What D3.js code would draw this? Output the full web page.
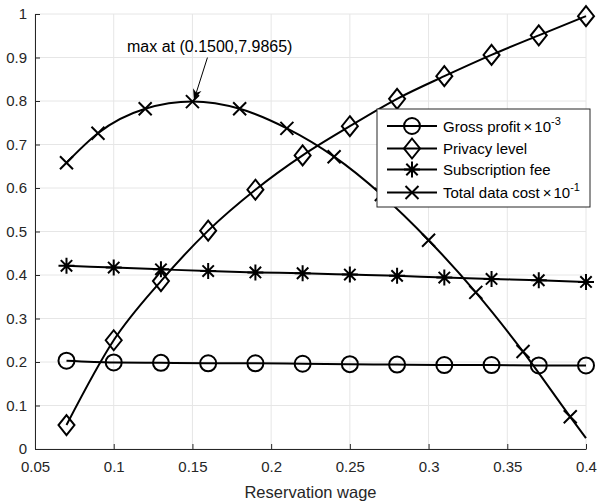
<!DOCTYPE html>
<html>
<head>
<meta charset="utf-8">
<script src="https://cdn.jsdelivr.net/npm/d3@7/dist/d3.min.js"></script>
<style>
  html, body { margin: 0; padding: 0; background: #fff; }
  svg { display: block; font-family: "Liberation Sans", Arial, Helvetica, sans-serif; }
</style>
</head>
<body>
<svg id="chart" width="597" height="503"></svg>
<script>
// Sampled reservation wages (markers every 0.03)
const wage = [0.07, 0.10, 0.13, 0.16, 0.19, 0.22, 0.25, 0.28, 0.31, 0.34, 0.37, 0.40];
// Gross profit (scaled by 10^-3)
const grossProfit = [0.203, 0.199, 0.198, 0.197, 0.197, 0.196, 0.195, 0.194, 0.193, 0.193, 0.192, 0.192];
// Privacy level
const privacyLevel = [0.055, 0.250, 0.386, 0.502, 0.596, 0.675, 0.742, 0.805, 0.857, 0.906, 0.951, 0.995];
// Subscription fee
const subscriptionFee = [0.421, 0.417, 0.413, 0.409, 0.406, 0.404, 0.401, 0.398, 0.394, 0.391, 0.388, 0.384];
// Total data cost (scaled by 10^-1), sampled on its own wage grid
const costWage = [0.07, 0.09, 0.12, 0.15, 0.18, 0.21, 0.24, 0.27, 0.30, 0.33, 0.36, 0.39, 0.40];
const totalDataCost = [0.658, 0.726, 0.782, 0.79865, 0.782, 0.737, 0.672, 0.585, 0.480, 0.360, 0.224, 0.074, 0.025];
const costMarked = [true, true, true, true, true, true, true, true, true, true, true, true, false];

const xTicks = [0.05, 0.1, 0.15, 0.2, 0.25, 0.3, 0.35, 0.4];
const yTicks = [0, 0.1, 0.2, 0.3, 0.4, 0.5, 0.6, 0.7, 0.8, 0.9, 1];

const svg = d3.select("#chart");
const m = { left: 35, right: 11, top: 14, bottom: 54 };
const W = 597, H = 503;
const x = d3.scaleLinear().domain([0.05, 0.4]).range([m.left, W - m.right]);
const y = d3.scaleLinear().domain([0, 1]).range([H - m.bottom, m.top]);

const axisColor = "#262626";
const gridColor = "#e6e6e6";

// grid
const grid = svg.append("g");
grid.selectAll(".gx").data(xTicks).join("line")
  .attr("x1", d => x(d)).attr("x2", d => x(d))
  .attr("y1", y(0)).attr("y2", y(1))
  .attr("stroke", gridColor).attr("stroke-width", 1);
grid.selectAll(".gy").data(yTicks).join("line")
  .attr("x1", x(0.05)).attr("x2", x(0.4))
  .attr("y1", d => y(d)).attr("y2", d => y(d))
  .attr("stroke", gridColor).attr("stroke-width", 1);

// axes (ticks point inward)
const xAxis = d3.axisBottom(x).tickValues(xTicks).tickFormat(d3.format("~g"))
  .tickSizeInner(-5).tickSizeOuter(0).tickPadding(12);
const yAxis = d3.axisLeft(y).tickValues(yTicks).tickFormat(d3.format("~g"))
  .tickSizeInner(-5).tickSizeOuter(0).tickPadding(8);

const gx = svg.append("g").attr("transform", `translate(0,${y(0)})`).call(xAxis);
const gy = svg.append("g").attr("transform", `translate(${x(0.05)},0)`).call(yAxis);
[gx, gy].forEach(g => {
  g.select(".domain").attr("stroke", axisColor).attr("stroke-width", 1);
  g.selectAll(".tick line").attr("stroke", axisColor).attr("stroke-width", 1);
  g.selectAll(".tick text").attr("fill", axisColor)
    .style("font-size", "15px").style("font-family", "Liberation Sans, Arial, sans-serif");
});

svg.append("text")
  .attr("x", (x(0.05) + x(0.4)) / 2).attr("y", 498)
  .attr("text-anchor", "middle").attr("fill", axisColor)
  .style("font-size", "16.5px")
  .text("Reservation wage");

// marker painters
const markerFns = {
  circle: (g) => g.append("circle").attr("r", 8),
  diamond: (g) => g.append("path").attr("d", "M0,-10L8,0L0,10L-8,0Z"),
  star: (g) => g.append("path").attr("d",
    "M0,-8V8M-8,0H8M-5.7,-5.7L5.7,5.7M-5.7,5.7L5.7,-5.7"),
  cross: (g) => g.append("path").attr("d", "M-6.5,-6.5L6.5,6.5M-6.5,6.5L6.5,-6.5")
};

const series = [
  { name: "gross", xs: wage, ys: grossProfit, marks: wage.map(() => true), marker: "circle" },
  { name: "privacy", xs: wage, ys: privacyLevel, marks: wage.map(() => true), marker: "diamond" },
  { name: "fee", xs: wage, ys: subscriptionFee, marks: wage.map(() => true), marker: "star" },
  { name: "cost", xs: costWage, ys: totalDataCost, marks: costMarked, marker: "cross" }
];

const line = d3.line().x(d => x(d[0])).y(d => y(d[1])).curve(d3.curveMonotoneX);

series.forEach(s => {
  const pts = s.xs.map((v, i) => [v, s.ys[i], s.marks[i]]);
  const g = svg.append("g");
  g.append("path").datum(pts).attr("d", line)
    .attr("fill", "none").attr("stroke", "#000").attr("stroke-width", 2);
  pts.filter(p => p[2]).forEach(p => {
    const mg = g.append("g").attr("transform", `translate(${x(p[0])},${y(p[1])})`)
      .attr("fill", "none").attr("stroke", "#000").attr("stroke-width", 2);
    markerFns[s.marker](mg);
  });
});

// annotation with arrow to the maximum of total data cost
const peakIdx = d3.maxIndex(totalDataCost);
const px = x(costWage[peakIdx]), py = y(totalDataCost[peakIdx]);
svg.append("defs").append("marker")
  .attr("id", "arrowhead").attr("viewBox", "0 0 10 10")
  .attr("refX", 10).attr("refY", 5)
  .attr("markerWidth", 11).attr("markerHeight", 11)
  .attr("markerUnits", "userSpaceOnUse")
  .attr("orient", "auto")
  .append("path").attr("d", "M0,1L10,5L0,9L3,5Z").attr("fill", "#000");
svg.append("line")
  .attr("x1", px + 15).attr("y1", py - 44)
  .attr("x2", px + 1.5).attr("y2", py - 1.5)
  .attr("stroke", "#000").attr("stroke-width", 1)
  .attr("marker-end", "url(#arrowhead)");
svg.append("text")
  .attr("x", 127).attr("y", 52)
  .attr("fill", "#000").style("font-size", "16px")
  .text(`max at (${costWage[peakIdx].toFixed(4)},${(totalDataCost[peakIdx] * 10).toFixed(4)})`);

// legend
const legend = svg.append("g");
const lx = 377, ly = 109, lw = 213, lh = 98;
legend.append("rect").attr("x", lx).attr("y", ly).attr("width", lw).attr("height", lh)
  .attr("fill", "#fff").attr("stroke", axisColor).attr("stroke-width", 1);
const legendItems = [
  { marker: "circle", label: "Gross profit", exp: "-3" },
  { marker: "diamond", label: "Privacy level" },
  { marker: "star", label: "Subscription fee" },
  { marker: "cross", label: "Total data cost", exp: "-1" }
];
const rowY = [126, 148.5, 169.5, 192.5];
legendItems.forEach((it, i) => {
  const gy2 = rowY[i];
  legend.append("line").attr("x1", 387).attr("x2", 437).attr("y1", gy2).attr("y2", gy2)
    .attr("stroke", "#000").attr("stroke-width", 2);
  const mg = legend.append("g").attr("transform", `translate(412,${gy2})`)
    .attr("fill", "none").attr("stroke", "#000").attr("stroke-width", 2);
  markerFns[it.marker](mg);
  const t = legend.append("text").attr("x", 443).attr("y", gy2 + 5.5)
    .attr("fill", "#000").style("font-size", "15px");
  t.append("tspan").text(it.label);
  if (it.exp) {
    t.append("tspan").text("\u00d7").attr("dx", 3);
    t.append("tspan").text("10").attr("dx", 2);
    t.append("tspan").text(it.exp).attr("dy", -7).style("font-size", "11px");
  }
});
</script>
</body>
</html>
